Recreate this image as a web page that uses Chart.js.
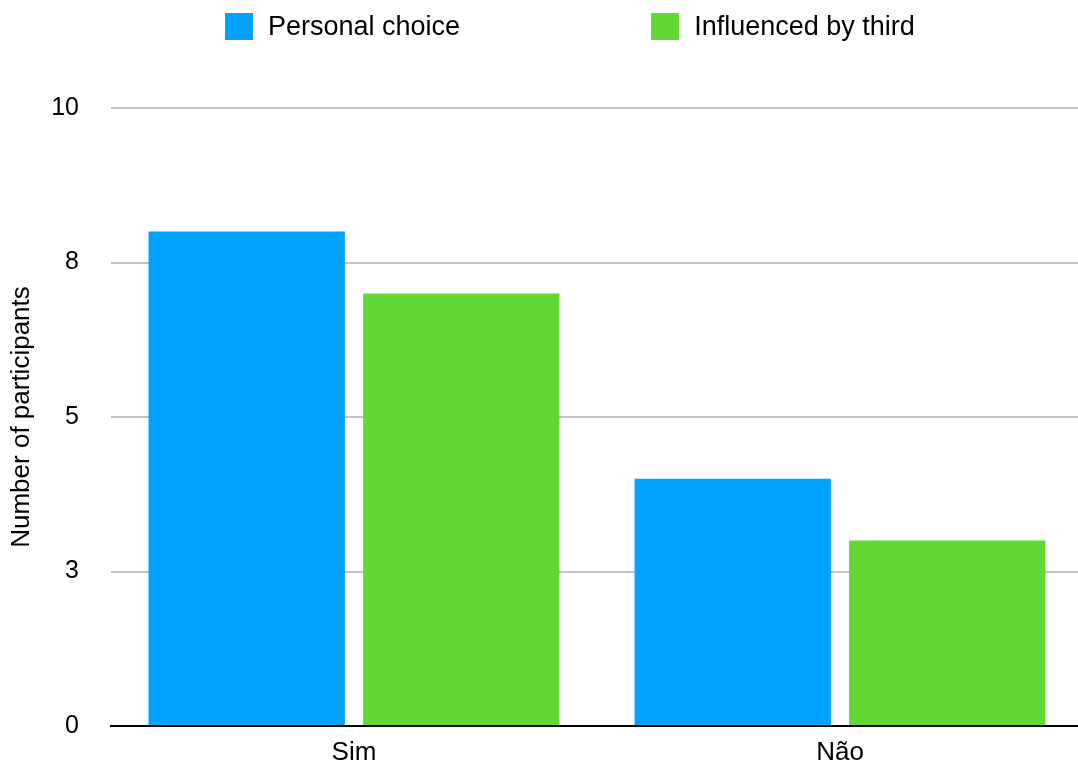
<!DOCTYPE html>
<html>
<head>
<meta charset="utf-8">
<script src="https://cdn.jsdelivr.net/npm/chart.js@4"></script>
<style>
  html, body { margin: 0; padding: 0; background: #fff; }
  #wrap { position: relative; width: 1078px; height: 769px; overflow: hidden; }
  #legend { position: absolute; top: 12px; left: 225px; display: flex; font-family: "Liberation Sans", Arial, sans-serif; font-size: 27px; color: #000; }
  .item { display: flex; align-items: center; height: 28px; }
  .item + .item { margin-left: 191px; }
  .box { width: 28px; height: 27px; margin-right: 15px; }
</style>
</head>
<body>
<div id="wrap">
  <div id="legend"></div>
  <!-- canvas a bit bigger than the page so the plot runs off the right edge like the original -->
  <canvas id="Chart" width="1083" height="773"></canvas>
</div>
<script>
const categories = ["Sim", "Não"];
const seriesNames = ["Personal choice", "Influenced by third"];
const personalChoice = [8, 4];
const influencedByThird = [7, 3];
const tickValues = [0, 2.5, 5, 7.5, 10];
const tickLabels = ["0", "3", "5", "8", "10"];
const colors = ["#00A2FF", "#61D836"];

const font = "'Liberation Sans', Arial, sans-serif";

// html legend, chart.js legend can't do the wide gap without a tall box
const legend = document.querySelector("#legend");
seriesNames.forEach((name, i) => {
  const item = document.createElement("div");
  item.className = "item";
  item.innerHTML = '<span class="box" style="background:' + colors[i] + '"></span><span>' + name + "</span>";
  legend.appendChild(item);
});

const ctx = document.querySelector("#Chart");
const myChart = new Chart(ctx, {
  type: "bar",
  data: {
    labels: categories,
    datasets: [
      { label: seriesNames[0], data: personalChoice, backgroundColor: colors[0] },
      { label: seriesNames[1], data: influencedByThird, backgroundColor: colors[1] },
    ],
  },
  options: {
    responsive: false,
    animation: false,
    categoryPercentage: 0.883,
    barPercentage: 0.915,
    layout: { padding: { top: 108, right: 0, bottom: 0, left: 6 } },
    plugins: {
      legend: { display: false },
      tooltip: { enabled: false },
    },
    scales: {
      x: {
        grid: { display: false, drawTicks: false },
        border: { display: true, color: "#000", width: 2 },
        ticks: { color: "#000", font: { family: font, size: 26 }, padding: 11 },
        afterFit: (axis) => {
          axis.height = 40;
        },
      },
      y: {
        min: 0,
        max: 10,
        afterBuildTicks: (axis) => {
          axis.ticks = tickValues.map((v) => ({ value: v }));
        },
        afterFit: (axis) => {
          axis.width = 105;
        },
        ticks: {
          color: "#000",
          font: { family: font, size: 25 },
          padding: 32,
          callback: (value) => tickLabels[tickValues.indexOf(value)],
        },
        grid: { color: "#C0C0C0", lineWidth: 2, drawTicks: false },
        border: { display: false },
        title: {
          display: true,
          text: "Number of participants",
          color: "#000",
          font: { family: font, size: 26 },
          padding: { top: 0, bottom: 4 },
        },
      },
    },
  },
});
</script>
</body>
</html>
